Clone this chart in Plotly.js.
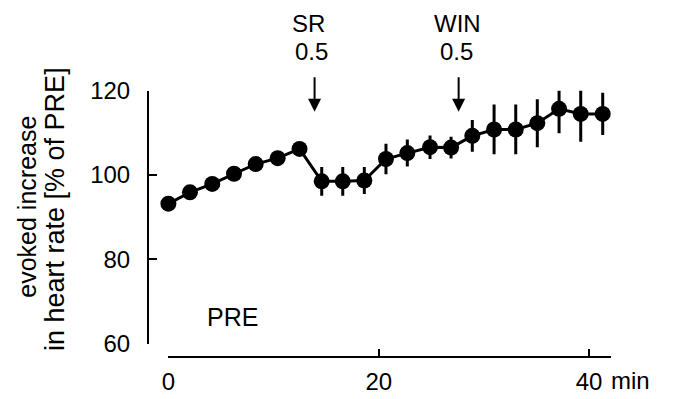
<!DOCTYPE html>
<html>
<head>
<meta charset="utf-8">
<script src="https://cdn.plot.ly/plotly-3.0.1.min.js"></script>
<style>html,body{margin:0;padding:0;background:#fff}#chart{width:678px;height:399px}</style>
</head>
<body>
<div id="chart"></div>
<script>
// time (min) of each measurement
var timeMin = [0, 2.05, 4.17, 6.24, 8.30, 10.39, 12.47, 14.58, 16.58, 18.63, 20.69,
               22.72, 24.88, 26.88, 28.90, 30.97, 33.03, 35.08, 37.15, 39.21, 41.3];
// evoked increase in heart rate [% of PRE]
var hrPercent = [93.2, 95.9, 97.9, 100.3, 102.6, 104.0, 106.2, 98.5, 98.5, 98.7, 103.8,
                 105.2, 106.6, 106.5, 109.3, 110.8, 110.8, 112.3, 115.7, 114.5, 114.5];
// SEM
var hrSem = [1.2, 1.2, 1.2, 1.2, 1.3, 1.3, 1.4, 3.4, 3.4, 3.2, 3.6,
             3.2, 2.8, 2.6, 3.75, 5.9, 5.9, 5.7, 5.8, 6.6, 5.0];
// drug applications
var drugNames = ['SR', 'WIN'];
var drugDoses = ['0.5', '0.5'];
var drugTimes = [13.9, 27.6];
var yTicks = [60, 80, 100, 120];
var xTicks = [0, 20, 40];

var FONT = 'Liberation Sans, Arial, sans-serif';
var W = 678, H = 399;

var trace = {
  x: timeMin, y: hrPercent, type: 'scatter', mode: 'lines+markers',
  line: {color: '#000', width: 3},
  marker: {color: '#000', size: 16},
  error_y: {type: 'data', array: hrSem, visible: true, color: '#000', thickness: 3, width: 0},
  cliponaxis: false, hoverinfo: 'skip'
};

var annotations = [];
var textX = [308, 457];
var doseX = [311, 456];
for (var i = 0; i < drugNames.length; i++) {
  annotations.push({xref: 'paper', yref: 'paper', x: textX[i] / W, y: (H - 23) / H,
    text: drugNames[i], showarrow: false, xanchor: 'center', yanchor: 'middle',
    font: {family: FONT, size: 24, color: '#000'}});
  annotations.push({xref: 'paper', yref: 'paper', x: doseX[i] / W, y: (H - 51.5) / H,
    text: drugDoses[i], showarrow: false, xanchor: 'center', yanchor: 'middle',
    font: {family: FONT, size: 24, color: '#000'}});
  annotations.push({xref: 'x', yref: 'y', x: drugTimes[i], y: 115.0, text: '',
    showarrow: true, arrowhead: 2, arrowsize: 1.3, arrowwidth: 2, arrowcolor: '#000',
    ax: 0, ay: -36});
}
annotations.push({xref: 'x', yref: 'y', x: 6.1, y: 66.4, text: 'PRE', showarrow: false,
  xanchor: 'center', yanchor: 'middle', font: {family: FONT, size: 25, color: '#000'}});
annotations.push({xref: 'paper', yref: 'paper', x: 609 / W, y: (H - 380) / H, text: 'min',
  showarrow: false, xanchor: 'left', yanchor: 'middle', font: {family: FONT, size: 24, color: '#000'}});
annotations.push({xref: 'paper', yref: 'paper', x: 26.7 / W, y: (H - 207) / H, text: 'evoked increase',
  showarrow: false, textangle: -90, xanchor: 'center', yanchor: 'middle',
  font: {family: FONT, size: 25, color: '#000'}});
annotations.push({xref: 'paper', yref: 'paper', x: 55 / W, y: (H - 209) / H, text: 'in heart rate [% of PRE]',
  showarrow: false, textangle: -90, xanchor: 'center', yanchor: 'middle',
  font: {family: FONT, size: 27, color: '#000'}});

var layout = {
  width: W, height: H,
  margin: {l: 0, r: 0, t: 0, b: 0},
  paper_bgcolor: '#fff', plot_bgcolor: '#fff',
  showlegend: false,
  font: {family: FONT, size: 24, color: '#000'},
  xaxis: {
    domain: [168.4 / W, 610.7 / W], range: [0, 42.06],
    anchor: 'free', position: (H - 357.3) / H,
    showline: true, linecolor: '#000', linewidth: 2,
    showgrid: false, zeroline: false,
    tickmode: 'array', tickvals: xTicks, ticktext: xTicks.map(String),
    ticks: 'inside', ticklen: 7, tickwidth: 2, tickcolor: '#000',
    ticklabelstandoff: 3,
    tickfont: {family: FONT, size: 24, color: '#000'}, automargin: false
  },
  yaxis: {
    domain: [(H - 343.7) / H, (H - 90.7) / H], range: [60, 120],
    anchor: 'free', position: 148 / W,
    showline: true, linecolor: '#000', linewidth: 2,
    showgrid: false, zeroline: false,
    tickmode: 'array', tickvals: yTicks, ticktext: yTicks.map(String),
    ticks: 'inside', ticklen: 8, tickwidth: 2, tickcolor: '#000',
    ticklabelstandoff: 12,
    tickfont: {family: FONT, size: 24, color: '#000'}, automargin: false
  },
  annotations: annotations
};

Plotly.newPlot('chart', [trace], layout, {staticPlot: true, displayModeBar: false});
</script>
</body>
</html>
